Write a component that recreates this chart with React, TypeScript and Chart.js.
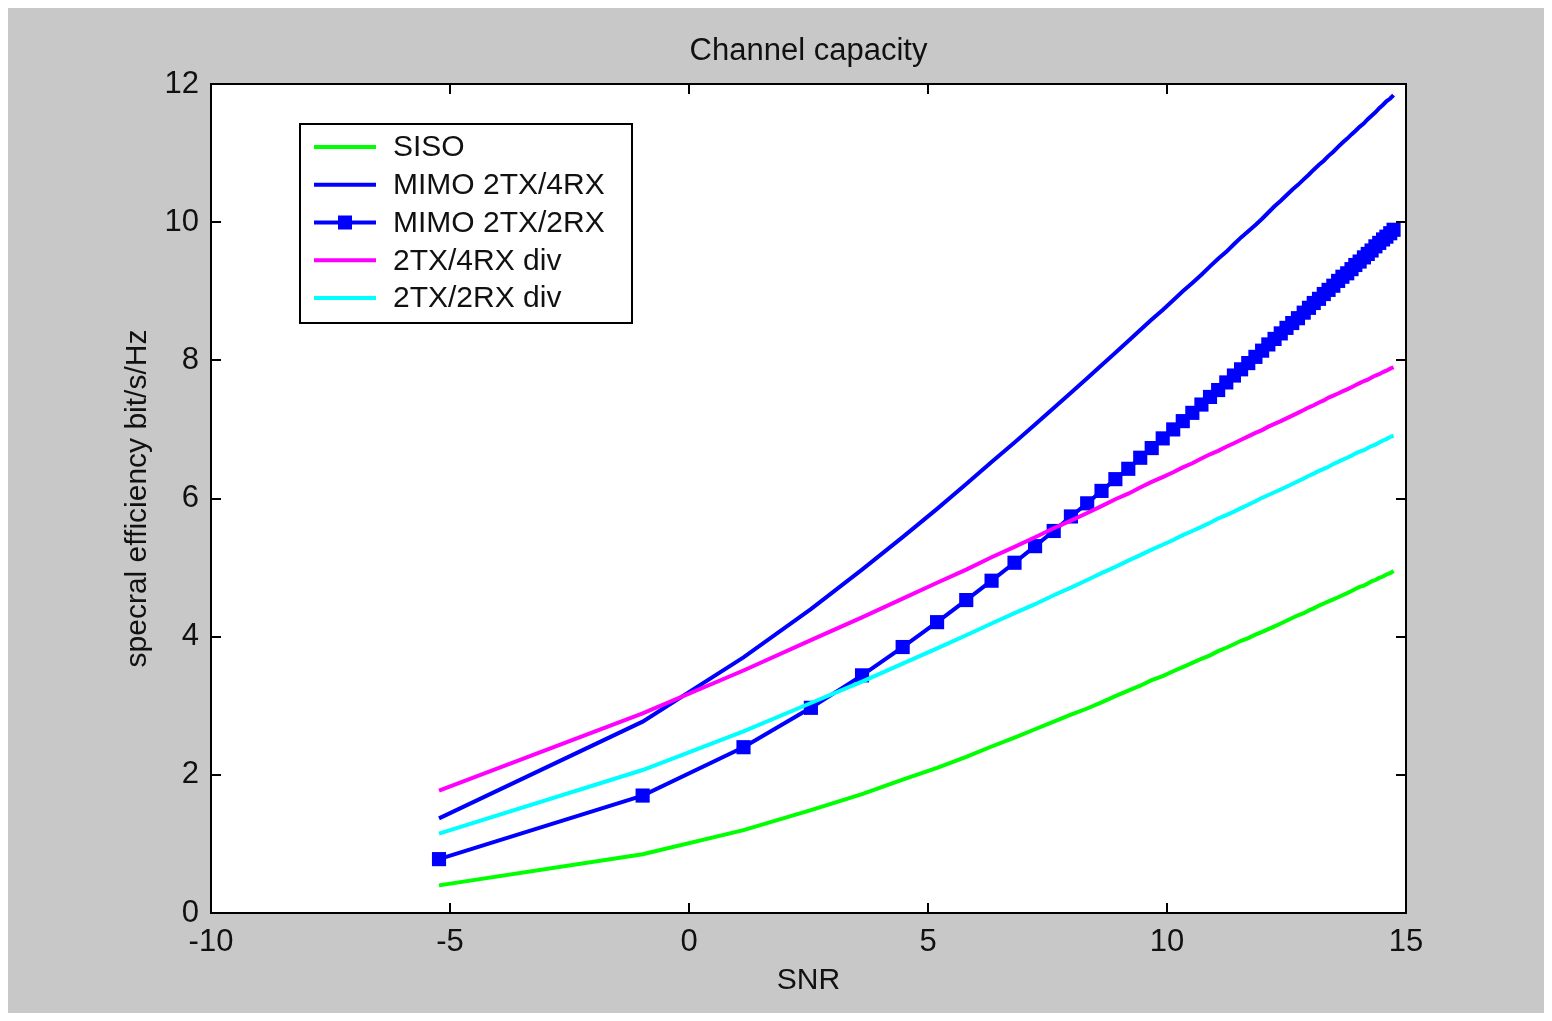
import React, { useEffect, useRef } from 'react';
import { Chart, registerables } from 'chart.js';

Chart.register(...registerables);

const snrDb = [-5.23, -0.97, 1.14, 2.55, 3.62, 4.47, 5.19, 5.8, 6.33, 6.81, 7.24, 7.63, 7.99, 8.33, 8.63, 8.92, 9.19, 9.44, 9.68, 9.91, 10.13, 10.33, 10.53, 10.72, 10.9, 11.07, 11.24, 11.4, 11.55, 11.7, 11.85, 11.99, 12.12, 12.25, 12.38, 12.5, 12.62, 12.74, 12.86, 12.97, 13.07, 13.18, 13.28, 13.38, 13.48, 13.58, 13.67, 13.77, 13.86, 13.94, 14.03, 14.12, 14.2, 14.28, 14.36, 14.44, 14.52, 14.59, 14.67, 14.74];

const siso = [0.4, 0.85, 1.2, 1.49, 1.72, 1.93, 2.1, 2.26, 2.41, 2.54, 2.66, 2.77, 2.87, 2.96, 3.05, 3.14, 3.22, 3.29, 3.37, 3.43, 3.5, 3.56, 3.62, 3.68, 3.73, 3.79, 3.84, 3.89, 3.94, 3.98, 4.03, 4.07, 4.11, 4.15, 4.19, 4.23, 4.27, 4.31, 4.34, 4.38, 4.41, 4.45, 4.48, 4.51, 4.54, 4.57, 4.6, 4.63, 4.66, 4.69, 4.72, 4.74, 4.77, 4.8, 4.82, 4.85, 4.87, 4.9, 4.92, 4.95];

const mimo2x4 = [1.37, 2.77, 3.7, 4.4, 4.97, 5.44, 5.85, 6.21, 6.53, 6.81, 7.07, 7.31, 7.53, 7.74, 7.93, 8.11, 8.28, 8.44, 8.59, 8.73, 8.87, 9.0, 9.12, 9.24, 9.36, 9.47, 9.57, 9.68, 9.78, 9.87, 9.96, 10.05, 10.14, 10.23, 10.31, 10.39, 10.47, 10.54, 10.62, 10.69, 10.76, 10.83, 10.89, 10.96, 11.02, 11.09, 11.15, 11.21, 11.27, 11.32, 11.38, 11.43, 11.49, 11.54, 11.59, 11.65, 11.7, 11.75, 11.79, 11.84];

const mimo2x2 = [0.78, 1.7, 2.4, 2.97, 3.44, 3.85, 4.21, 4.53, 4.81, 5.07, 5.31, 5.53, 5.74, 5.93, 6.11, 6.28, 6.43, 6.59, 6.73, 6.87, 7.0, 7.12, 7.24, 7.36, 7.47, 7.57, 7.68, 7.78, 7.87, 7.96, 8.05, 8.14, 8.23, 8.31, 8.39, 8.47, 8.54, 8.61, 8.69, 8.76, 8.83, 8.89, 8.96, 9.02, 9.08, 9.15, 9.21, 9.26, 9.32, 9.38, 9.43, 9.49, 9.54, 9.59, 9.65, 9.7, 9.75, 9.79, 9.84, 9.89];

const div2x4 = [1.77, 2.89, 3.51, 3.95, 4.28, 4.55, 4.78, 4.97, 5.15, 5.3, 5.44, 5.57, 5.68, 5.79, 5.89, 5.99, 6.07, 6.16, 6.24, 6.31, 6.38, 6.45, 6.51, 6.58, 6.64, 6.69, 6.75, 6.8, 6.85, 6.9, 6.95, 6.99, 7.04, 7.08, 7.12, 7.16, 7.2, 7.24, 7.28, 7.32, 7.35, 7.39, 7.42, 7.46, 7.49, 7.52, 7.55, 7.58, 7.61, 7.64, 7.67, 7.7, 7.72, 7.75, 7.78, 7.8, 7.83, 7.85, 7.88, 7.9];

const div2x2 = [1.15, 2.07, 2.63, 3.04, 3.35, 3.61, 3.83, 4.02, 4.19, 4.34, 4.47, 4.6, 4.71, 4.82, 4.92, 5.01, 5.1, 5.18, 5.26, 5.33, 5.4, 5.47, 5.53, 5.59, 5.65, 5.71, 5.76, 5.81, 5.86, 5.91, 5.96, 6.01, 6.05, 6.09, 6.13, 6.17, 6.21, 6.25, 6.29, 6.33, 6.36, 6.4, 6.43, 6.46, 6.5, 6.53, 6.56, 6.59, 6.62, 6.65, 6.68, 6.7, 6.73, 6.76, 6.78, 6.81, 6.84, 6.86, 6.89, 6.91];

const seriesLabels = ['SISO', 'MIMO 2TX/4RX', 'MIMO 2TX/2RX', '2TX/4RX div', '2TX/2RX div'];
const seriesColors = ['#00ff00', '#0000ff', '#0000ff', '#ff00ff', '#00ffff'];
const seriesMarkers = [false, false, true, false, false];

const xTicks = [-10, -5, 0, 5, 10, 15];
const yTicks = [0, 2, 4, 6, 8, 10, 12];

const titleText = 'Channel capacity';
const xTitle = 'SNR';
const yTitle = 'specral efficiency bit/s/Hz';

const FONT = "'Liberation Sans', Arial, Helvetica, sans-serif";

const framePlugin = {
  id: 'matlabFrame',
  beforeDraw(chart: any) {
    const { ctx, chartArea: a } = chart;
    ctx.save();
    ctx.fillStyle = '#ffffff';
    ctx.fillRect(a.left, a.top, a.right - a.left, a.bottom - a.top);
    ctx.restore();
  },
  afterDraw(chart: any, _args: any, opts: any) {
    const { ctx, chartArea: a, scales } = chart;
    ctx.save();
    ctx.strokeStyle = '#000';
    ctx.lineWidth = 2;
    ctx.strokeRect(a.left, a.top, a.right - a.left, a.bottom - a.top);
    const seg = (x0: number, y0: number, x1: number, y1: number) => {
      ctx.beginPath();
      ctx.moveTo(x0, y0);
      ctx.lineTo(x1, y1);
      ctx.stroke();
    };
    const tl = 10;
    xTicks.forEach((v) => {
      const px = Math.round(scales.x.getPixelForValue(v));
      seg(px, a.bottom, px, a.bottom - tl);
      seg(px, a.top, px, a.top + tl);
    });
    yTicks.forEach((v) => {
      const py = Math.round(scales.y.getPixelForValue(v));
      seg(a.left, py, a.left + tl, py);
      seg(a.right, py, a.right - tl, py);
    });

    // legend box
    const L = opts;
    ctx.fillStyle = '#ffffff';
    ctx.fillRect(L.left, L.top, L.width, L.height);
    ctx.lineWidth = 2;
    ctx.strokeStyle = '#000';
    ctx.strokeRect(L.left, L.top, L.width, L.height);
    ctx.font = `30px ${FONT}`;
    ctx.textBaseline = 'middle';
    ctx.textAlign = 'left';
    chart.data.datasets.forEach((ds: any, i: number) => {
      const y = L.top + L.rowStart + i * L.rowGap;
      ctx.strokeStyle = ds.borderColor;
      ctx.lineWidth = 4;
      seg(L.left + L.lineX0, y, L.left + L.lineX1, y);
      if (seriesMarkers[i]) {
        ctx.fillStyle = ds.borderColor;
        const cx = (L.lineX0 + L.lineX1) / 2 + L.left;
        ctx.fillRect(cx - 7, y - 7, 14, 14);
      }
      ctx.fillStyle = '#111';
      ctx.fillText(ds.label, L.left + L.textX, y + 1);
    });
    ctx.restore();
  },
};

export default function App() {
  const ref = useRef<HTMLCanvasElement>(null);
  useEffect(() => {
    const canvas = ref.current;
    if (!canvas) return;
    const series = [siso, mimo2x4, mimo2x2, div2x4, div2x2];
    const datasets = series.map((ys, i) => ({
      label: seriesLabels[i],
      data: snrDb.map((x, j) => ({ x, y: ys[j] })),
      borderColor: seriesColors[i],
      backgroundColor: seriesColors[i],
      borderWidth: 4,
      pointRadius: seriesMarkers[i] ? 10 : 0,
      pointHoverRadius: 0,
      pointStyle: 'rect',
      pointBorderWidth: 0,
      tension: 0,
      fill: false,
      order: 5 - i,
    }));
    const chart = new Chart(canvas, {
      type: 'line',
      data: { datasets },
      plugins: [framePlugin],
      options: {
        animation: false,
        responsive: false,
        devicePixelRatio: 1,
        layout: { padding: { left: 0, right: 139, top: 0, bottom: 0 } },
        plugins: {
          legend: { display: false },
          tooltip: { enabled: false },
          title: {
            display: true,
            fullSize: false,
            text: titleText,
            color: '#111',
            font: { family: FONT, size: 31, weight: 'normal', lineHeight: 1.2 },
            padding: { top: 26.4, bottom: 14.4 },
          },
          matlabFrame: {
            left: 292, top: 118, width: 332, height: 199,
            rowStart: 23, rowGap: 37.75, lineX0: 14, lineX1: 76, textX: 93,
          },
        } as any,
        scales: {
          x: {
            type: 'linear',
            min: -10,
            max: 15,
            afterFit: (s: any) => { s.height = 102; },
            afterBuildTicks: (s: any) => { s.ticks = xTicks.map((v) => ({ value: v })); },
            ticks: { color: '#111', font: { family: FONT, size: 31 }, padding: 11, maxRotation: 0, autoSkip: false },
            grid: { display: false, drawTicks: false },
            border: { display: false },
            title: {
              display: true,
              text: xTitle,
              color: '#111',
              font: { family: FONT, size: 30, lineHeight: 1.2 },
              padding: { top: 0, bottom: 16 },
            },
          },
          y: {
            type: 'linear',
            min: 0,
            max: 12,
            afterFit: (s: any) => { s.width = 203; },
            afterBuildTicks: (s: any) => { s.ticks = yTicks.map((v) => ({ value: v })); },
            ticks: { color: '#111', font: { family: FONT, size: 31 }, padding: 12, autoSkip: false },
            grid: { display: false, drawTicks: false },
            border: { display: false },
            title: {
              display: true,
              text: yTitle,
              color: '#111',
              font: { family: FONT, size: 30, lineHeight: 1.2 },
              padding: { top: 112, bottom: 0 },
            },
          },
        },
      } as any,
    });
    return () => chart.destroy();
  }, []);
  return (
    <div style={{ position: 'relative', width: 1552, height: 1021, margin: -8, background: '#ffffff' }}>
      <canvas
        ref={ref}
        width={1537}
        height={1009}
        style={{ position: 'absolute', left: 8, top: 6, width: 1537, height: 1009, background: '#c8c8c8', display: 'block' }}
      />
    </div>
  );
}
